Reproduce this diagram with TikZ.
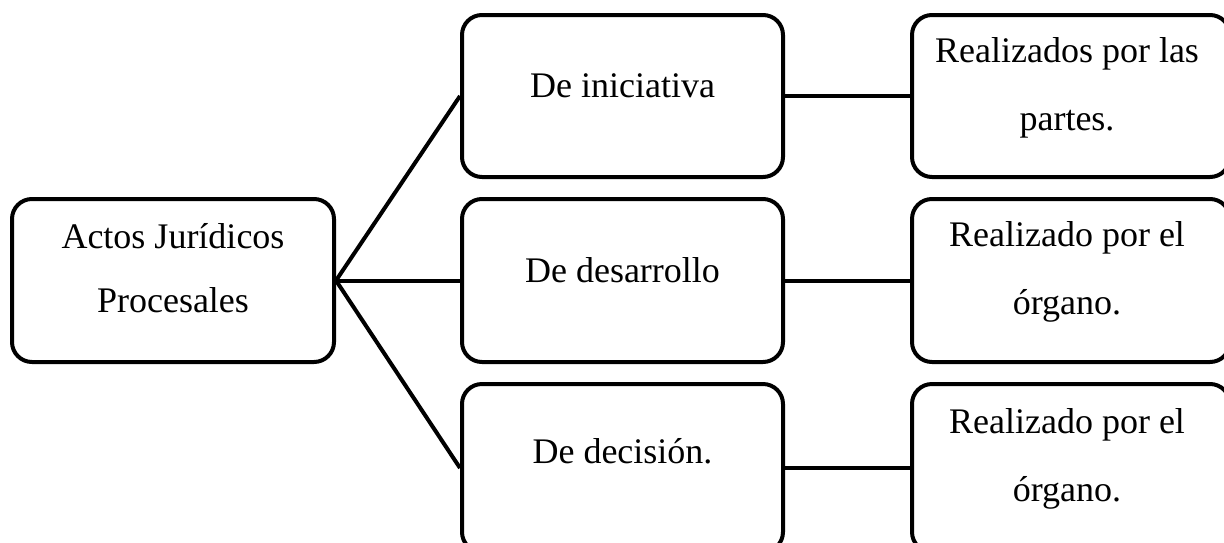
\documentclass[tikz,border=0pt]{standalone}
\usepackage{fontspec}
\setmainfont{Liberation Serif}
\begin{document}
\begin{tikzpicture}[x=1pt,y=-1pt,
  box/.style={draw,line width=4pt,rounded corners=20pt,inner sep=0pt},
  lbl/.style={font=\fontsize{36}{64}\selectfont,align=center,inner sep=0pt},
  lblr/.style={font=\fontsize{36}{68}\selectfont,align=center,inner sep=0pt},
  conn/.style={line width=4pt,line join=round}]
\path[use as bounding box] (0,0) rectangle (1224,542);
\clip (0,0) rectangle (1224,542);
% boxes
\node[box,minimum width=322pt,minimum height=163pt] (a) at (173,280.5) {};
\node[box,minimum width=321pt,minimum height=162pt] (m1) at (622.5,96) {};
\node[box,minimum width=321pt,minimum height=163pt] (m2) at (622.5,280.5) {};
\node[box,minimum width=321pt,minimum height=168pt] (m3) at (622.5,468) {};
\node[box,minimum width=318pt,minimum height=162pt] (r1) at (1071,96) {};
\node[box,minimum width=318pt,minimum height=163pt] (r2) at (1071,280.5) {};
\node[box,minimum width=318pt,minimum height=168pt] (r3) at (1071,468) {};
% texts
\node[lbl] (ta) at (173,268) {Actos Jurídicos\\Procesales};
\node[lbl,anchor=base] (tm1) at (622.5,97) {De iniciativa};
\node[lbl,anchor=base] (tm2) at (622.5,282) {De desarrollo};
\node[lbl,anchor=base] (tm3) at (622.5,463) {De decisión.};
\node[lblr] (tr1) at (1067,88) {Realizados por las\\partes.};
\node[lblr] (tr2) at (1067,272) {Realizado por el\\órgano.};
\node[lblr] (tr3) at (1067,459) {Realizado por el\\órgano.};
% connectors
\draw[conn] (a.east) -- (m1.west);
\draw[conn] (a.east) -- (m2.west);
\draw[conn] (a.east) -- (m3.west);
\draw[conn] (m1.east) -- (r1.west);
\draw[conn] (m2.east) -- (r2.west);
\draw[conn] (m3.east) -- (r3.west);
\end{tikzpicture}
\end{document}
